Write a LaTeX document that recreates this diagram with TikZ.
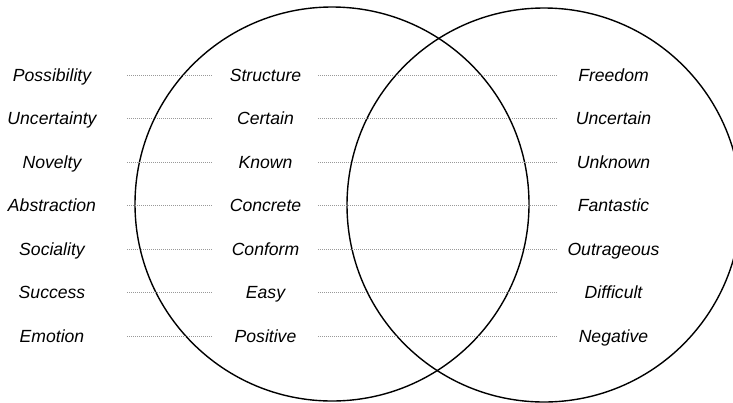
\documentclass[tikz,border=0pt]{standalone}
\usepackage{fontspec}
\setmainfont{Liberation Sans}
\begin{document}
\begin{tikzpicture}[x=1pt,y=-1pt,
  lbl/.style={font=\fontsize{17.6}{20}\selectfont\itshape, inner sep=0pt,
    text height=12.7pt, text depth=0pt, align=center},
  leftlbl/.style={lbl, minimum width=150pt},
  midlbl/.style={lbl, minimum width=105pt},
  rightlbl/.style={lbl, minimum width=113pt},
  dotline/.style={draw=gray!80, line width=0.7pt, dash pattern=on 0.9pt off 1.1pt},
  ring/.style={draw=black, line width=1.4pt}]
\useasboundingbox (0,0) rectangle (733,402);
\clip (0,0) rectangle (733,402);

% the two overlapping sets
\draw[ring] (332,204) circle (197);
\draw[ring] (544,205) circle (197);

% rows of terms: category, first pole, second pole
\foreach \i/\a/\b/\c in {0/Possibility/Structure/Freedom,
                         1/Uncertainty/Certain/Uncertain,
                         2/Novelty/Known/Unknown,
                         3/Abstraction/Concrete/Fantastic,
                         4/Sociality/Conform/Outrageous,
                         5/Success/Easy/Difficult,
                         6/Emotion/Positive/Negative} {
  \pgfmathsetmacro{\yy}{75+43.5*\i}
  \node[leftlbl]  (l\i) at (52,\yy)    {\a};
  \node[midlbl]   (m\i) at (265.5,\yy) {\b};
  \node[rightlbl] (r\i) at (613.5,\yy) {\c};
  \draw[dotline] (l\i.east) -- (m\i.west);
  \draw[dotline] (m\i.east) -- (r\i.west);
}
\end{tikzpicture}
\end{document}
